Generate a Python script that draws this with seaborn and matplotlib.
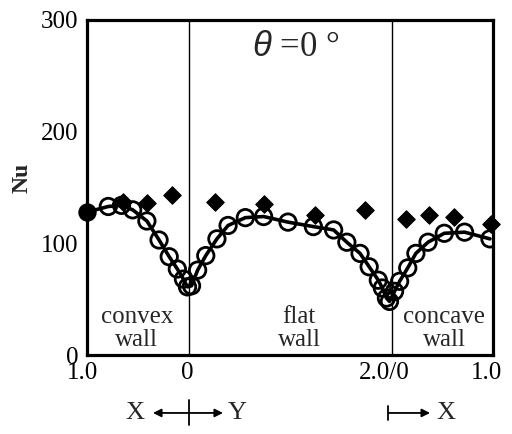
import numpy as np
import pandas as pd
import matplotlib
matplotlib.use("Agg")
import matplotlib.pyplot as plt
import matplotlib.transforms as mtransforms
import seaborn as sns

# Local Nusselt number, open circles (curve drawn through them)
edge_X = [1.00]
edge_Nu = [128]
convex_X = [0.79, 0.66, 0.55, 0.41, 0.29, 0.19, 0.11, 0.05, 0.01]
convex_Nu = [133, 134, 130, 120, 103, 88, 77, 68, 61]
flat_Y = [0.03, 0.09, 0.17, 0.28, 0.39, 0.56, 0.74, 0.98, 1.23, 1.43,
          1.56, 1.69, 1.78, 1.87, 1.91, 1.95, 1.98]
flat_Nu = [62, 76, 89, 104, 116, 123, 124, 119, 115, 112,
           101, 91, 79, 67, 60, 51, 48]
concave_X = [0.03, 0.08, 0.16, 0.24, 0.36, 0.52, 0.72, 0.97]
concave_Nu = [57, 66, 78, 91, 101, 109, 110, 104]

# Second data set, filled diamonds
dia_convex_X = [0.65, 0.41, 0.16]
dia_convex_Nu = [137, 136, 143]
dia_flat_Y = [0.26, 0.74, 1.25, 1.74]
dia_flat_Nu = [137, 135, 125, 130]
dia_concave_X = [0.14, 0.37, 0.62, 0.98]
dia_concave_Nu = [122, 125, 124, 117]

x_ticks = [-1.0, 0.0, 2.0, 3.0]
x_tick_labels = ["1.0", "0", "2.0/0", "1.0"]
y_ticks = [0, 100, 200, 300]


def unroll(cx, fy, kx):
    """Map convex X, flat Y and concave X onto one running coordinate."""
    return ([-v for v in cx] + list(fy) + [2.0 + v for v in kx])


s_circ = unroll(convex_X, flat_Y, concave_X)
nu_circ = list(convex_Nu) + list(flat_Nu) + list(concave_Nu)
curve = pd.DataFrame({"s": unroll(edge_X, [], []) + s_circ,
                      "Nu": list(edge_Nu) + nu_circ})
circles = pd.DataFrame({"s": s_circ, "Nu": nu_circ})
edge = pd.DataFrame({"s": unroll(edge_X, [], []), "Nu": edge_Nu})
diamonds = pd.DataFrame({
    "s": unroll(dia_convex_X, dia_flat_Y, dia_concave_X),
    "Nu": list(dia_convex_Nu) + list(dia_flat_Nu) + list(dia_concave_Nu),
})

sns.set_theme(style="white")
plt.rcParams["font.family"] = ["Liberation Serif", "DejaVu Serif"]
plt.rcParams["mathtext.fontset"] = "custom"
plt.rcParams["mathtext.it"] = "Liberation Sans:italic"
plt.rcParams["mathtext.rm"] = "Liberation Sans"

fig = plt.figure(figsize=(5.12, 4.34), dpi=100)
ax = fig.add_axes([87 / 512, 1 - 355 / 434, 406 / 512, 335 / 434])

# wall boundaries
for xb in (0.0, 2.0):
    ax.axvline(xb, color="black", lw=1.0, zorder=1)

sns.lineplot(data=curve, x="s", y="Nu", ax=ax, color="black", lw=2.6,
             sort=False, estimator=None, zorder=3)
sns.scatterplot(data=circles, x="s", y="Nu", ax=ax, marker="o", s=140,
                facecolors="none", edgecolor="black", linewidth=2.0, zorder=4)
sns.scatterplot(data=edge, x="s", y="Nu", ax=ax, marker="o", s=150,
                color="black", edgecolor="black", zorder=5, clip_on=False)
sns.scatterplot(data=diamonds, x="s", y="Nu", ax=ax, marker="D", s=80,
                color="black", edgecolor="black", zorder=5, clip_on=False)

ax.set_xlim(-1.0, 3.0)
ax.set_ylim(0, 300)
ax.set_xlabel("")
ax.set_ylabel("Nu", fontsize=17, fontweight="bold")
ax.yaxis.set_label_coords(-0.133, 0.528)
ax.set_xticks(x_ticks)
ax.set_xticklabels(x_tick_labels)
ax.set_yticks(y_ticks)
ax.tick_params(axis="both", length=0, labelsize=18, colors="black")
ax.tick_params(axis="y", pad=6)
ax.tick_params(axis="x", pad=5)
shifts = [-5, -1, -7, -7]
for lab, dx in zip(ax.get_xticklabels(), shifts):
    lab.set_transform(lab.get_transform() +
                      mtransforms.ScaledTranslation(dx / 100, 0, fig.dpi_scale_trans))

for sp in ax.spines.values():
    sp.set_color("black")
    sp.set_linewidth(2.3)

# wall names
for xc, name in ((-0.51, "convex\nwall"), (1.09, "flat\nwall"),
                 (2.52, "concave\nwall")):
    ax.text(xc, 24, name, ha="center", va="center", fontsize=18,
            linespacing=1.05)

ax.text(1.06, 275, r"$\theta$ =0 °", ha="center", va="center", fontsize=25)

# coordinate directions below the axis
bt = mtransforms.blended_transform_factory(ax.transData, ax.transAxes)
ya = -0.173
ax.annotate("", xy=(0.34, ya), xytext=(-0.35, ya), xycoords=bt, textcoords=bt,
            arrowprops=dict(arrowstyle="<|-|>", lw=1.3, color="black",
                            mutation_scale=12, shrinkA=0, shrinkB=0))
ax.plot([0.0, 0.0], [-0.134, -0.209], transform=bt, color="black", lw=1.3,
        clip_on=False)
ax.text(-0.53, ya, "X", transform=bt, ha="center", va="center", fontsize=19)
ax.text(0.48, ya, "Y", transform=bt, ha="center", va="center", fontsize=19)
ax.annotate("", xy=(2.38, ya), xytext=(1.97, ya), xycoords=bt, textcoords=bt,
            arrowprops=dict(arrowstyle="-|>", lw=1.3, color="black",
                            mutation_scale=12, shrinkA=0, shrinkB=0))
ax.plot([1.97, 1.97], [-0.152, -0.194], transform=bt, color="black", lw=1.3,
        clip_on=False)
ax.text(2.54, ya, "X", transform=bt, ha="center", va="center", fontsize=19)

fig.savefig("out.png", dpi=100)
